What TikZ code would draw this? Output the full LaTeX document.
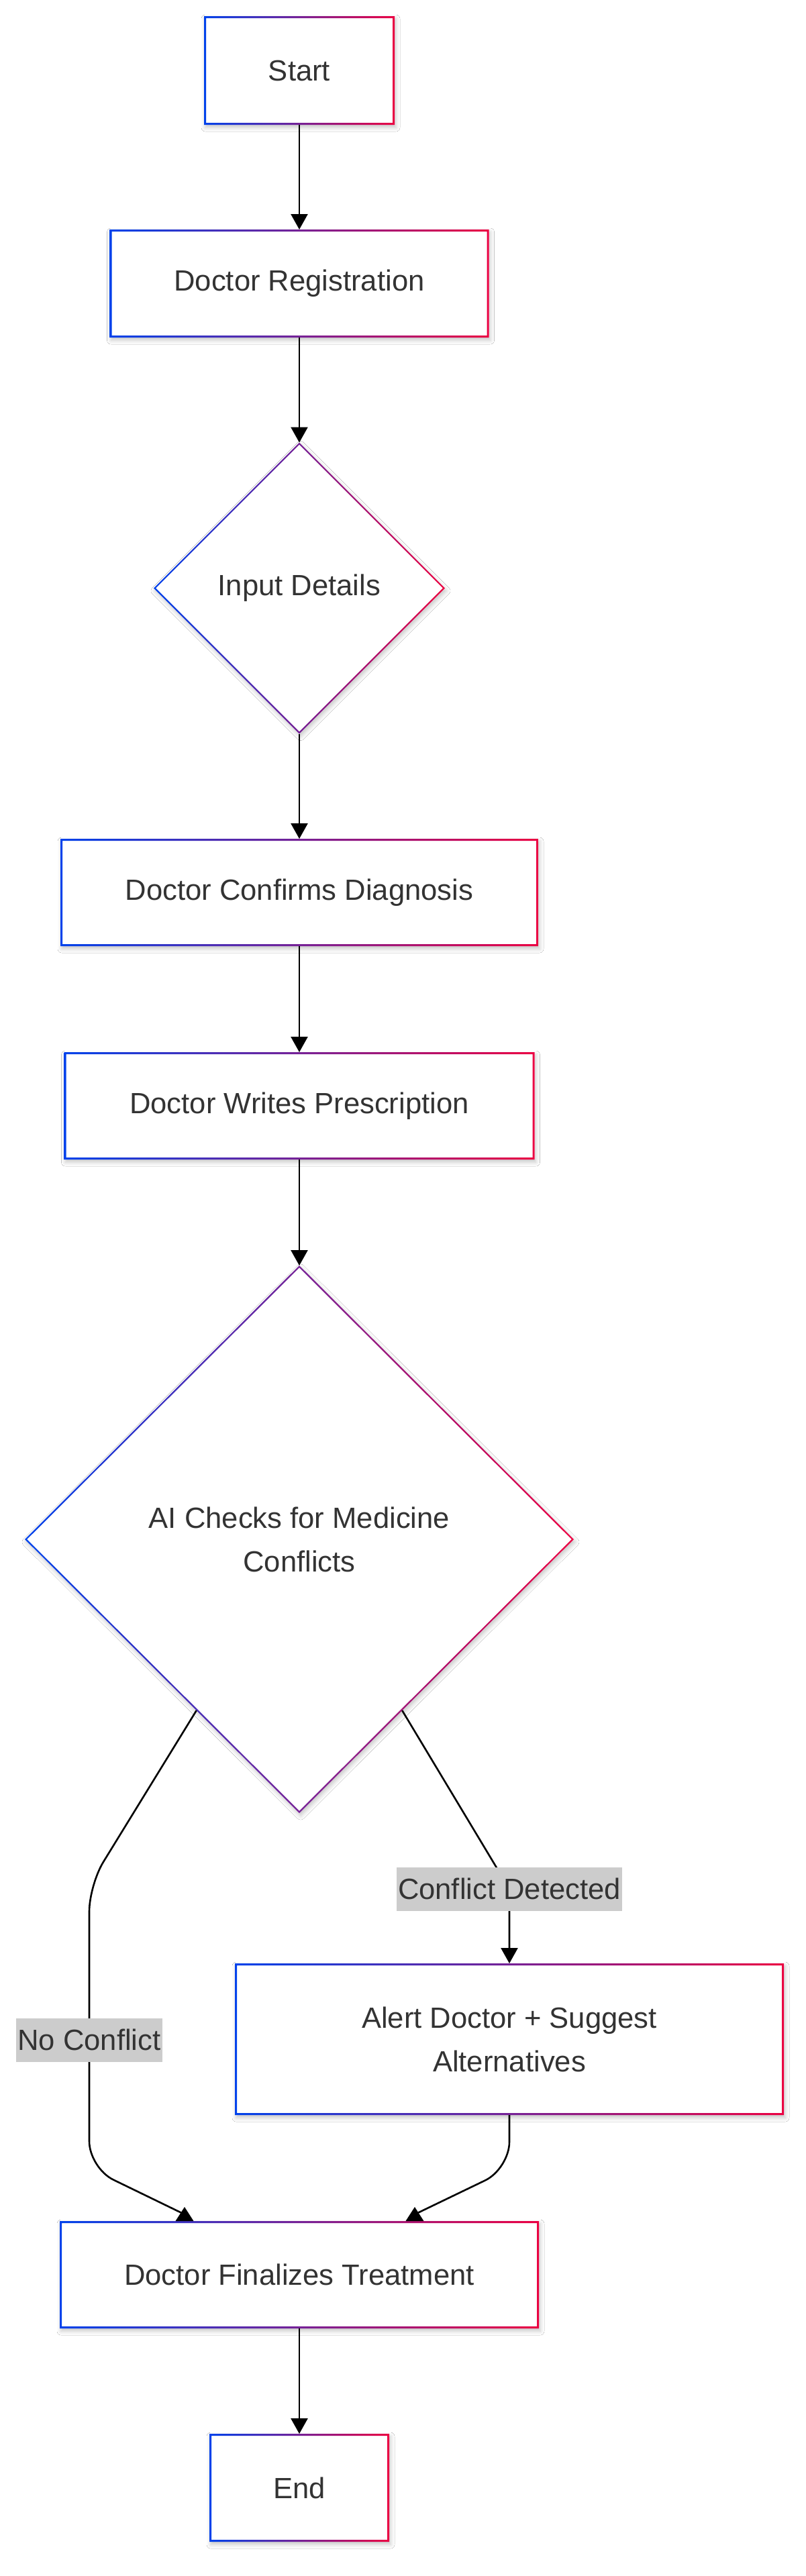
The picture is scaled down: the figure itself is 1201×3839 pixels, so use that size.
\documentclass[tikz,border=0pt]{standalone}
\usepackage{fontspec}
\setmainfont{Liberation Sans}
\usetikzlibrary{shapes.geometric,arrows.meta,shadows.blur}
\definecolor{gA}{HTML}{0042EB}
\definecolor{gB}{HTML}{EB0042}
\definecolor{txt}{HTML}{333333}
\definecolor{lblbg}{HTML}{CCCCCC}
\newcommand\gradrect[2][3]{%
  \path[left color=gA, right color=gB, even odd rule]
    (#2.south west) rectangle (#2.north east)
    ([shift={(#1pt,#1pt)}]#2.south west) rectangle ([shift={(-#1pt,-#1pt)}]#2.north east);}
\newcommand\graddia[2][3.2]{%
  \path[left color=gA, right color=gB, even odd rule]
    (#2.north) -- (#2.east) -- (#2.south) -- (#2.west) -- cycle
    ([yshift=-#1pt]#2.north) -- ([xshift=-#1pt]#2.east) -- ([yshift=#1pt]#2.south) -- ([xshift=#1pt]#2.west) -- cycle;}
\begin{document}
\begin{tikzpicture}[x=1pt,y=-1pt,
  base/.style={font=\fontsize{43.6}{65}\selectfont, text=txt, inner sep=0pt, outer sep=0pt, align=center},
  shadowed/.style={blur shadow={shadow xshift=2pt, shadow yshift=-4pt, shadow blur radius=6pt, shadow opacity=22}},
  gbox/.style={base, rectangle, fill=white, shadowed},
  gdia/.style={base, diamond, aspect=1, fill=white, shadowed},
  lbl/.style={base, sharp corners, fill=lblbg, minimum height=65pt, inner xsep=2pt},
  line/.style={draw=black, line width=2.6pt},
  arr/.style={line, -{Triangle[length=23pt,width=25pt]}},
  tipup/.style={fill=black}]
\useasboundingbox (0,0) rectangle (1201,3839);
\fill[white] (0,0) rectangle (1201,3839);

\node[gbox, minimum width=284pt, minimum height=162pt] (start) at (446,105) {Start};
\node[gbox, minimum width=565pt, minimum height=161pt] (reg) at (446,422.5) {Doctor Registration};
\node[gdia, minimum width=434pt, minimum height=434pt] (input) at (446,876.5) {Input Details};
\node[gbox, minimum width=712pt, minimum height=160pt] (conf) at (446,1330) {Doctor Confirms Diagnosis};
\node[gbox, minimum width=701pt, minimum height=160pt] (presc) at (446,1648) {Doctor Writes Prescription};
\node[gdia, minimum width=818pt, minimum height=816pt] (ai) at (446,2294) {AI Checks for Medicine\\Conflicts};
\node[gbox, minimum width=818pt, minimum height=226pt] (alert) at (759,3039) {Alert Doctor + Suggest\\Alternatives};
\node[gbox, minimum width=714pt, minimum height=160pt] (final) at (446,3390) {Doctor Finalizes Treatment};
\node[gbox, minimum width=268pt, minimum height=161pt] (end) at (446,3707.5) {End};

\gradrect{start}
\gradrect{reg}
\graddia{input}
\gradrect{conf}
\gradrect{presc}
\graddia{ai}
\gradrect{alert}
\gradrect{final}
\gradrect{end}

\draw[arr] (start.south) -- (reg.north);
\draw[arr] (reg.south) -- (input.north);
\draw[arr] (input.south) -- (conf.north);
\draw[arr] (conf.south) -- (presc.north);
\draw[arr] (presc.south) -- (ai.north);
\draw[line, rounded corners=40pt] (ai.239) -- (133,2809) -- (133,3040) node[lbl] (nc) {No Conflict} -- (133,3231) -- ([shift={(186pt,10pt)}]final.north west);
\fill[tipup] ([xshift=172.5pt]final.north west) -- ++(27,0) -- ++(-13.5,-21) -- cycle;
\draw[arr] (ai.301) -- (759,2815) node[lbl] (cd) {Conflict Detected} -- (alert.north);
\draw[line, rounded corners=40pt] (alert.south) -- (759,3232) -- ([shift={(-185pt,10pt)}]final.north east);
\fill[tipup] ([xshift=-198.5pt]final.north east) -- ++(27,0) -- ++(-13.5,-21) -- cycle;
\draw[arr] (final.south) -- (end.north);
\end{tikzpicture}
\end{document}
